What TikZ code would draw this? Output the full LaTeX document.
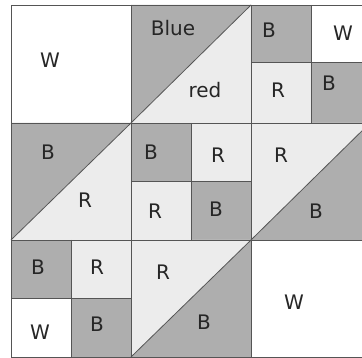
\documentclass[tikz,border=0pt]{standalone}
\usepackage{fontspec}
\setmainfont{DejaVu Sans}
\usetikzlibrary{positioning}
\definecolor{quiltdark}{HTML}{AEAEAE}
\definecolor{quiltlight}{HTML}{ECECEC}
\definecolor{quiltline}{HTML}{555555}

\begin{document}
\begin{tikzpicture}[x=1pt,y=-1pt,
  seam/.style={draw=quiltline, line width=0.8pt},
  tag/.style={font=\fontsize{20}{22}\selectfont, text=black!85, inner sep=0pt}]
  \useasboundingbox (0,0) rectangle (362,358);
  \clip (0,0) rectangle (362,358);
  \fill[white] (0,0) rectangle (362,358);

  % top row
  \fill[quiltdark] (131,5) -- (251,5) -- (131,123) -- cycle;
  \fill[quiltlight] (251,5) -- (251,123) -- (131,123) -- cycle;
  \fill[quiltdark] (251,5) rectangle (311,62);
  \fill[quiltlight] (251,62) rectangle (311,123);
  \fill[quiltdark] (311,62) rectangle (370,123);

  % middle row
  \fill[quiltdark] (11,123) -- (131,123) -- (11,240) -- cycle;
  \fill[quiltlight] (131,123) -- (131,240) -- (11,240) -- cycle;
  \fill[quiltdark] (131,123) rectangle (191,181);
  \fill[quiltlight] (191,123) rectangle (251,181);
  \fill[quiltlight] (131,181) rectangle (191,240);
  \fill[quiltdark] (191,181) rectangle (251,240);
  \fill[quiltlight] (251,123) -- (370,123) -- (251,240) -- cycle;
  \fill[quiltdark] (370,123) -- (370,240) -- (251,240) -- cycle;

  % bottom row
  \fill[quiltdark] (11,240) rectangle (71,298);
  \fill[quiltlight] (71,240) rectangle (131,298);
  \fill[quiltdark] (71,298) rectangle (131,357);
  \fill[quiltlight] (131,240) -- (251,240) -- (131,357) -- cycle;
  \fill[quiltdark] (251,240) -- (251,357) -- (131,357) -- cycle;

  % seams
  \draw[seam] (370,5) -- (11,5) -- (11,357) -- (370,357);
  \foreach \x in {131,251} \draw[seam] (\x,5) -- (\x,357);
  \foreach \y in {123,240} \draw[seam] (11,\y) -- (370,\y);
  \draw[seam] (251,62) -- (370,62) (311,5) -- (311,123);
  \draw[seam] (131,181) -- (251,181) (191,123) -- (191,240);
  \draw[seam] (11,298) -- (131,298) (71,240) -- (71,357);
  \draw[seam] (131,123) -- (251,5);
  \draw[seam] (11,240) -- (131,123);
  \draw[seam] (251,240) -- (370,123);
  \draw[seam] (131,357) -- (251,240);

  % labels
  \node[tag] (w1) at (50,60) {W};
  \node[tag] (blue) at (173,28) {Blue};
  \node[tag] (red) at (205,90) {red};
  \node[tag] (b1) at (269,30) {B};
  \node[tag] (w2) at (343,33) {W};
  \node[tag] (r1) at (278,90) {R};
  \node[tag] (b2) at (329,83) {B};
  \node[tag] (b3) at (48,152) {B};
  \node[tag] (r2) at (85,200) {R};
  \node[tag] (b4) at (151,152) {B};
  \node[tag] (r3) at (218,155) {R};
  \node[tag] (r4) at (155,211) {R};
  \node[tag] (b5) at (216,209) {B};
  \node[tag] (r5) at (281,155) {R};
  \node[tag] (b6) at (316,211) {B};
  \node[tag] (b7) at (38,267) {B};
  \node[tag] (r6) at (97,267) {R};
  \node[tag] (w3) at (40,332) {W};
  \node[tag] (b8) at (97,324) {B};
  \node[tag] (r7) at (163,272) {R};
  \node[tag] (b9) at (204,322) {B};
  \node[tag] (w4) at (294,302) {W};
\end{tikzpicture}
\end{document}
